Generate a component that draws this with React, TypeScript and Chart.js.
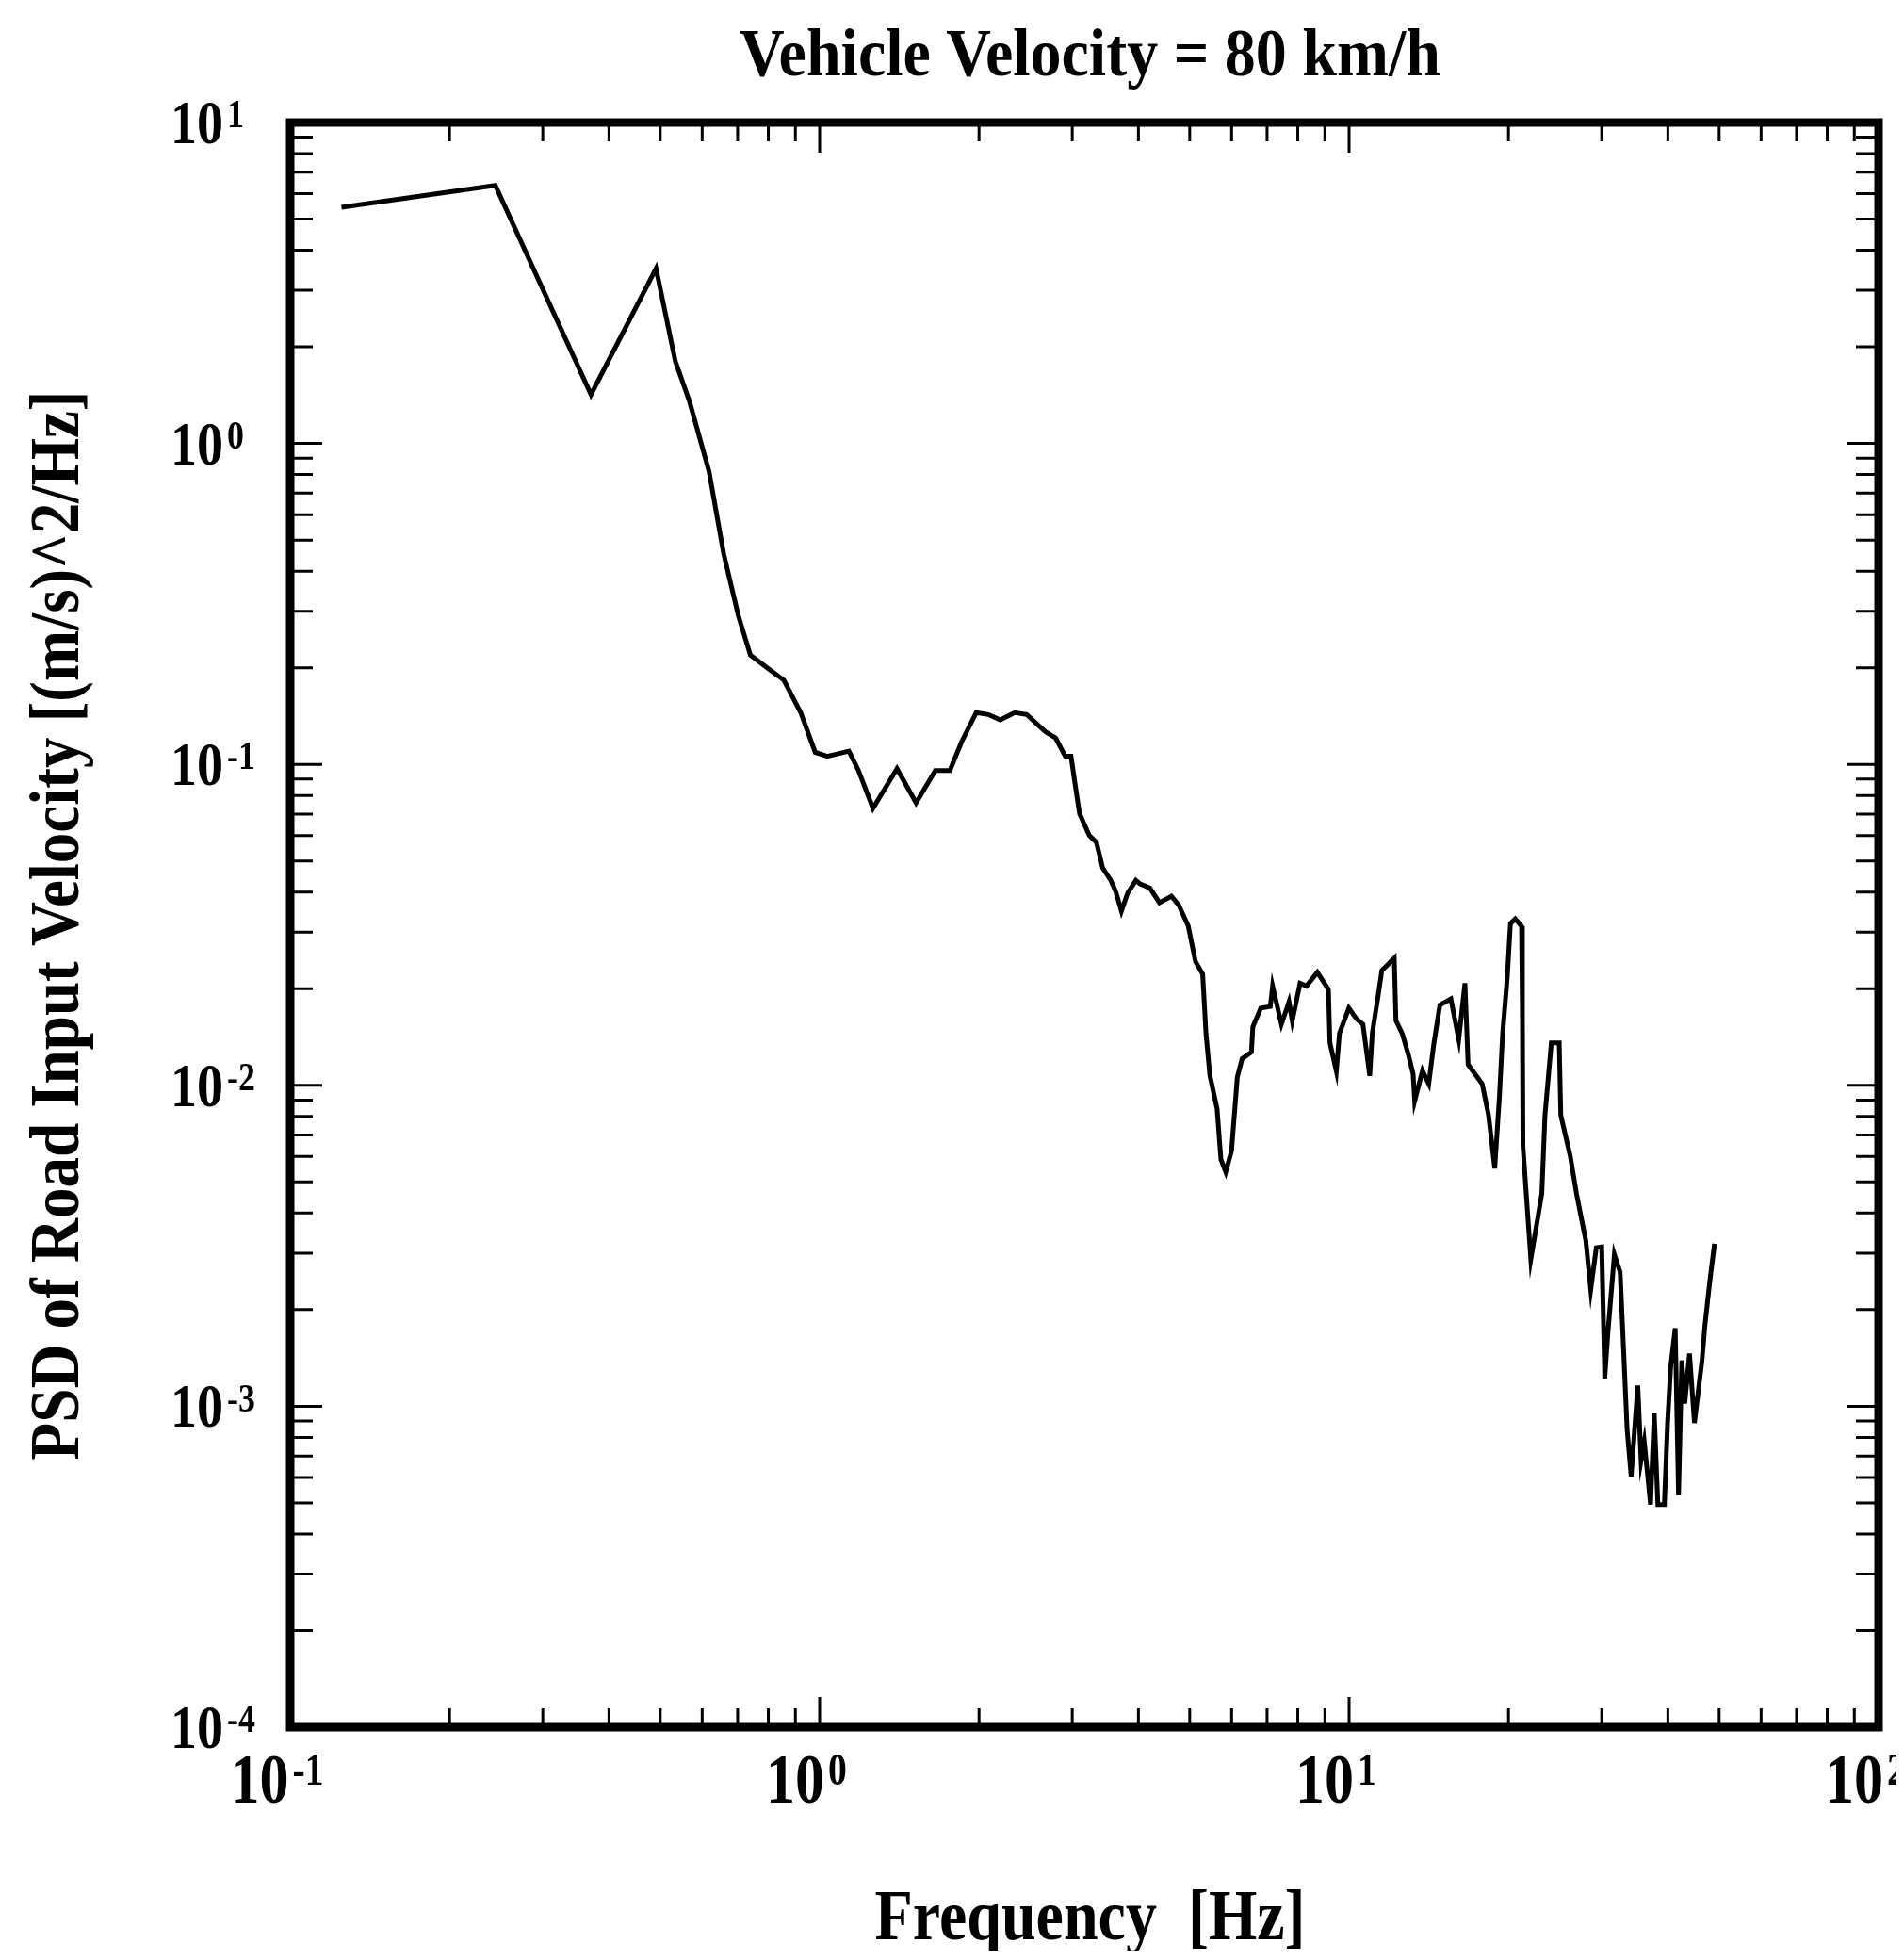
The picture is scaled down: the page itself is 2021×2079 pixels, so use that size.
import React, { useEffect, useRef } from "react";
import { Chart, registerables } from "chart.js";

Chart.register(...registerables);

// ---- data ----
const freqHz = [
  0.125, 0.244, 0.370, 0.491, 0.534, 0.568, 0.618,
  0.659, 0.702, 0.740, 0.796, 0.856, 0.921, 0.981, 1.034, 1.136, 1.184, 1.261,
  1.400, 1.521, 1.654, 1.762, 1.856, 1.976, 2.082, 2.194, 2.336, 2.461, 2.567,
  2.676, 2.790, 2.910, 2.984, 3.046, 3.097, 3.230, 3.333, 3.424, 3.548, 3.624,
  3.715, 3.817, 3.955,
  4.031, 4.203, 4.383, 4.618, 4.764, 4.967, 5.127, 5.290, 5.367, 5.458, 5.632,
  5.727, 5.848, 5.997,
  6.15, 6.28, 6.54, 6.58, 6.81, 7.10, 7.17, 7.45, 7.70, 7.81, 8.08, 8.31, 8.71,
  9.14, 9.20, 9.46, 9.59, 9.99, 10.33, 10.62, 10.94, 11.06, 11.37, 11.53, 12.17,
  12.26, 12.60, 12.95, 13.21, 13.30, 13.76, 14.14, 14.44, 14.84, 15.57, 16.11,
  16.55, 16.78, 17.84, 18.34, 18.84, 19.23, 19.50, 19.90, 20.17, 20.60, 21.17,
  21.25, 21.30, 22.04, 23.12, 23.44, 24.10, 24.94, 25.11, 26.16, 26.88, 28.0,
  28.6, 29.3, 30.0, 30.4, 30.8, 31.7, 32.5, 33.0, 33.5, 34.1, 35.1, 35.6, 36.1,
  37.1, 37.7, 38.3, 39.4, 39.95, 40.5, 41.3, 41.9, 42.5, 43.05, 43.95, 44.9,
  46.4, 47.0, 48.0, 49.0,
];
const psd = [
  5.44, 6.37, 1.42, 3.51, 1.80, 1.35, 0.82,
  0.452, 0.291, 0.219, 0.200, 0.183, 0.145, 0.109, 0.106, 0.110, 0.0957, 0.0730,
  0.0970, 0.0759, 0.0957, 0.0957, 0.118, 0.145, 0.143, 0.1375, 0.145, 0.143, 0.134,
  0.126, 0.121, 0.106, 0.106, 0.0841, 0.0702, 0.0601, 0.0571, 0.0476, 0.0435, 0.0402,
  0.0349, 0.0397, 0.0435,
  0.0424, 0.0412, 0.0371, 0.0388, 0.0365, 0.0314, 0.0243, 0.0222, 0.0145, 0.01075, 0.00845,
  0.00588, 0.00537, 0.00625,
  0.0106, 0.0121, 0.0127, 0.0152, 0.0174, 0.0176, 0.0204, 0.0155, 0.0182, 0.0159, 0.0208, 0.0204, 0.0225,
  0.0199, 0.01356, 0.01106, 0.01452, 0.0174, 0.0161, 0.0155, 0.0107, 0.0145, 0.01946, 0.0228, 0.0249,
  0.0159, 0.0145, 0.0124, 0.01084, 0.00894, 0.0111, 0.0101, 0.0133, 0.0178, 0.0186, 0.0139,
  0.0208, 0.0116, 0.0101, 0.00807, 0.00551, 0.00925, 0.0145, 0.0218, 0.0319, 0.0330, 0.0313,
  0.0166, 0.00645, 0.00287, 0.0046, 0.00807, 0.01356, 0.01356, 0.00807, 0.00603, 0.0046, 0.00328,
  0.00231, 0.00312, 0.00314, 0.00122, 0.00167, 0.00297, 0.00262, 0.00149, 0.000849, 0.000605, 0.00116, 0.000678, 0.000776,
  0.000494, 0.00095, 0.000494, 0.000494, 0.000887, 0.00133, 0.00175, 0.000528, 0.00139, 0.00102, 0.00146, 0.000887,
  0.00139, 0.00179, 0.00245, 0.00321,
];

const xTickExponents = [-1, 0, 1, 2];
const yTickExponents = [1, 0, -1, -2, -3, -4];

const chartTitle = "Vehicle Velocity = 80 km/h";
const xAxisTitle = "Frequency  [Hz]";
const yAxisTitle = "PSD of Road Input Velocity [(m/s)^2/Hz]";

const W = 2005;
const H = 2062;
const FONT = '"Liberation Serif", "Times New Roman", serif';

function drawStretched(
  ctx: CanvasRenderingContext2D,
  text: string,
  x: number,
  y: number,
  size: number,
  sx: number,
  sy: number,
  align: "left" | "center" | "right"
) {
  ctx.save();
  ctx.font = `bold ${size}px ${FONT}`;
  const w = ctx.measureText(text).width * sx;
  let x0 = x;
  if (align === "center") x0 = x - w / 2;
  else if (align === "right") x0 = x - w;
  ctx.translate(x0, y);
  ctx.scale(sx, sy);
  ctx.textAlign = "left";
  ctx.textBaseline = "alphabetic";
  ctx.fillStyle = "#000";
  ctx.fillText(text, 0, 0);
  ctx.restore();
  return w;
}

function drawPower(
  ctx: CanvasRenderingContext2D,
  exp: number,
  x: number,
  baseline: number,
  align: "left" | "center",
  size: number,
  sy: number
) {
  const base = "10";
  const sup = String(exp);
  const supSize = size * 0.64;
  ctx.font = `bold ${size}px ${FONT}`;
  const wb = ctx.measureText(base).width;
  ctx.font = `bold ${supSize}px ${FONT}`;
  const ws = ctx.measureText(sup).width;
  const gap = 4;
  const total = wb + gap + ws;
  const x0 = align === "left" ? x : x - total / 2;
  drawStretched(ctx, base, x0, baseline, size, 1, sy, "left");
  const digitH = 0.676 * size * sy;
  const supH = 0.676 * supSize * sy;
  drawStretched(ctx, sup, x0 + wb + gap, baseline - digitH + supH - 1, supSize, 1, sy, "left");
}

const framePlugin = {
  id: "framePlugin",
  afterDraw(chart: any) {
    const ctx: CanvasRenderingContext2D = chart.ctx;
    const { left, right, top, bottom } = chart.chartArea;
    const xs = chart.scales.x;
    const ys = chart.scales.y;
    ctx.save();
    ctx.strokeStyle = "#000";
    ctx.lineCap = "butt";

    // ticks (inward, all four sides)
    ctx.lineWidth = 3;
    const xMinV = xs.min, xMaxV = xs.max, yMinV = ys.min, yMaxV = ys.max;
    for (let e = -1; e <= 2; e++) {
      for (let m = 1; m <= 9; m++) {
        const v = m * Math.pow(10, e);
        if (v < xMinV * 0.999 || v > xMaxV * 1.001) continue;
        const px = xs.getPixelForValue(v);
        const len = m === 1 ? 32 : 20;
        ctx.beginPath();
        ctx.moveTo(px, bottom);
        ctx.lineTo(px, bottom - len);
        ctx.moveTo(px, top);
        ctx.lineTo(px, top + len);
        ctx.stroke();
      }
    }
    for (let e = -4; e <= 1; e++) {
      for (let m = 1; m <= 9; m++) {
        const v = m * Math.pow(10, e);
        if (v < yMinV * 0.999 || v > yMaxV * 1.001) continue;
        const py = ys.getPixelForValue(v);
        const len = m === 1 ? 34 : 24;
        ctx.beginPath();
        ctx.moveTo(left, py);
        ctx.lineTo(left + len, py);
        ctx.moveTo(right, py);
        ctx.lineTo(right - len, py);
        ctx.stroke();
      }
    }

    // frame
    ctx.lineWidth = 9;
    ctx.strokeRect(left, top, right - left, bottom - top);

    // tick labels
    for (const e of xTickExponents) {
      const px = xs.getPixelForValue(Math.pow(10, e));
      drawPower(ctx, e, px - 14, 1905, "center", 62, 1.2);
    }
    for (const e of yTickExponents) {
      const py = ys.getPixelForValue(Math.pow(10, e));
      drawPower(ctx, e, 173, py + 22, "left", 56, 1.16);
    }

    // titles
    drawStretched(ctx, chartTitle, 1149, 72, 66, 1, 1.1, "center");
    drawStretched(ctx, xAxisTitle, 1149, 2050, 66, 1, 1.15, "center");
    ctx.save();
    ctx.translate(75, 974);
    ctx.rotate(-Math.PI / 2);
    drawStretched(ctx, yAxisTitle, 0, 0, 65, 1, 1.15, "center");
    ctx.restore();

    ctx.restore();
  },
};

export default function App() {
  const canvasRef = useRef<HTMLCanvasElement | null>(null);

  useEffect(() => {
    const canvas = canvasRef.current;
    if (!canvas) return;
    const points = freqHz.map((f, i) => ({ x: f, y: psd[i] }));
    const chart = new Chart(canvas, {
      type: "scatter",
      data: {
        datasets: [
          {
            data: points,
            showLine: true,
            borderColor: "#000",
            borderWidth: 5,
            pointRadius: 0,
            tension: 0,
            fill: false,
          } as any,
        ],
      },
      options: {
        responsive: false,
        animation: false,
        devicePixelRatio: 1,
        layout: { padding: { left: 300, right: 19, top: 122, bottom: 237 } },
        plugins: {
          legend: { display: false },
          title: { display: false },
          tooltip: { enabled: false },
        },
        scales: {
          x: { type: "logarithmic", min: 0.1, max: 100, display: false },
          y: { type: "logarithmic", min: 1e-4, max: 10, display: false },
        },
      } as any,
      plugins: [framePlugin],
    });
    return () => chart.destroy();
  }, []);

  return (
    <div style={{ width: W, height: H }}>
      <canvas ref={canvasRef} width={W} height={H} style={{ display: "block", width: W, height: H }} />
    </div>
  );
}
